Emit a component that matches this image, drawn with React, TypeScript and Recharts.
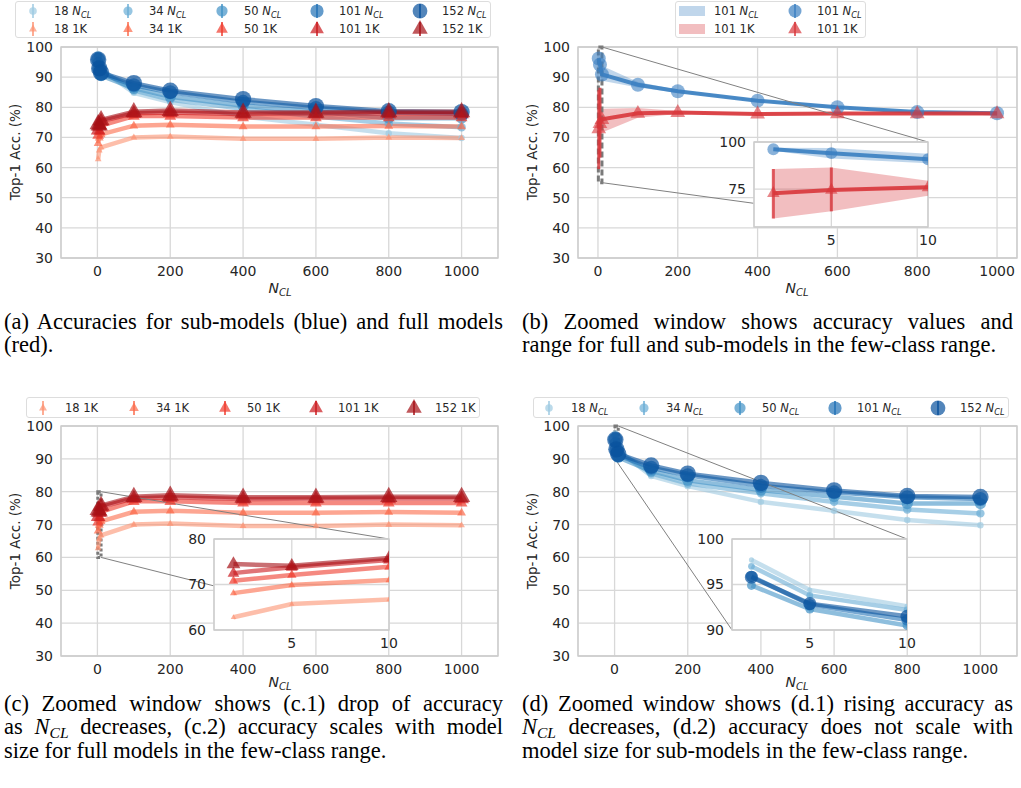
import React from "react";
import {
  ComposedChart,
  Line,
  Area,
  XAxis,
  YAxis,
  CartesianGrid,
  ReferenceArea,
  ReferenceLine,
  ErrorBar,
} from "recharts";

// N_CL values on the x axis
const nCl = [2, 5, 10, 100, 200, 400, 600, 800, 1000];
const models = ["18", "34", "50", "101", "152"];

// sub-model accuracy (blue, "N_CL")
const sub18 = [97.7, 94.4, 92.6, 84.8, 81.7, 76.9, 74.2, 71.4, 69.8];
const sub34 = [97.0, 93.8, 92.2, 85.6, 82.5, 79.5, 76.9, 74.6, 73.4];
const sub50 = [94.9, 92.3, 90.5, 86.3, 83.5, 80.5, 78.5, 76.4, 76.4];
const sub101 = [95.9, 92.8, 91.1, 87.3, 85.0, 81.8, 79.8, 78.3, 77.8];
const sub152 = [95.8, 92.9, 91.5, 88.0, 85.5, 82.7, 80.4, 78.7, 78.4];

// full-model accuracy (red, "1K")
const full18 = [62.8, 65.7, 66.7, 70.0, 70.3, 69.6, 69.6, 70.0, 69.8];
const full34 = [68.1, 69.9, 71.0, 73.9, 74.2, 73.6, 73.6, 73.8, 73.6];
const full50 = [70.8, 72.1, 73.9, 77.1, 77.1, 76.6, 76.6, 76.6, 76.6];
const full101 = [72.5, 73.8, 75.4, 78.0, 78.3, 77.8, 77.9, 77.9, 77.9];
const full152 = [74.5, 74.1, 75.8, 78.5, 78.9, 78.3, 78.3, 78.5, 78.5];

// panel (b): ResNet-101 mean and range
const bSub = [96.2, 94.1, 90.9, 87.5, 85.3, 82.2, 80.0, 78.4, 78.0];
const bSubLow = [95.4, 91.2, 88.8, 86.6, 84.8, 81.8, 79.6, 78.1, 77.7];
const bSubHigh = [96.9, 96.8, 93.8, 88.4, 85.8, 82.6, 80.4, 78.7, 78.3];
const bFull = [72.9, 74.6, 76.0, 78.0, 78.3, 77.8, 77.9, 77.9, 77.9];
const bFullLow = [59.5, 63.3, 71.6, 76.5, 77.8, 77.4, 77.5, 77.5, 77.5];
const bFullHigh = [85.7, 86.5, 79.5, 79.8, 78.8, 78.2, 78.3, 78.3, 78.3];
const bErrPoints = 2; // error bars drawn on the first two points

const xTicks = [0, 200, 400, 600, 800, 1000];
const yTicks = [30, 40, 50, 60, 70, 80, 90, 100];
const insetXTicks = [5, 10];

const subAcc = [sub18, sub34, sub50, sub101, sub152];
const fullAcc = [full18, full34, full50, full101, full152];

const blues = ["#9ecae1", "#6baed6", "#4292c6", "#2171b5", "#08519c"];
const reds = ["#fc9272", "#fb6a4a", "#ef3b2c", "#cb181d", "#a50f15"];
const markR = [3.2, 4.2, 5.6, 7, 8.2];
const bBlue = "#3a7fc1";
const bRed = "#d8363b";

const table = nCl.map((x, i) => {
  const row: Record<string, any> = { x };
  models.forEach((m, k) => {
    row["s" + m] = subAcc[k][i];
    row["f" + m] = fullAcc[k][i];
  });
  row.bs = bSub[i];
  row.bsBand = [bSubLow[i], bSubHigh[i]];
  row.bf = bFull[i];
  row.bfBand = [bFullLow[i], bFullHigh[i]];
  row.bfErr = i < bErrPoints ? [bFull[i] - bFullLow[i], bFullHigh[i] - bFull[i]] : [0, 0];
  return row;
});

const sans = "'DejaVu Sans', sans-serif";
const serif = "'Liberation Serif', 'Times New Roman', serif";
const ink = "#262626";
const tickStyle = { fill: ink, fontSize: 14, fontFamily: sans };

type Geo = {
  left: number;
  top: number;
  width: number;
  height: number;
  yW: number;
  mTop: number;
  mRight: number;
  xH: number;
  xDomain: [number, number];
  yDomain: [number, number];
  xTicks: number[];
  yTicks: number[];
  bg?: string;
};

const gA: Geo = { left: 0, top: 0, width: 510, height: 300, yW: 61, mTop: 47, mRight: 12, xH: 42, xDomain: [-100, 1100], yDomain: [30, 100], xTicks, yTicks };
const gB: Geo = { left: 510, top: 0, width: 511, height: 300, yW: 68, mTop: 47, mRight: 4, xH: 42, xDomain: [-50, 1050], yDomain: [30, 100], xTicks, yTicks };
const gC: Geo = { left: 0, top: 380, width: 510, height: 310, yW: 61, mTop: 46, mRight: 12, xH: 34, xDomain: [-100, 1100], yDomain: [30, 100], xTicks, yTicks };
const gD: Geo = { left: 510, top: 380, width: 511, height: 310, yW: 68, mTop: 46, mRight: 4, xH: 34, xDomain: [-100, 1100], yDomain: [30, 100], xTicks, yTicks };

const iB: Geo = { left: 709, top: 132, width: 231, height: 120, yW: 45, mTop: 10, mRight: 12, xH: 25, xDomain: [1, 10], yDomain: [55, 100], xTicks: insetXTicks, yTicks: [75, 100], bg: "#fff" };
const iC: Geo = { left: 169, top: 529, width: 232, height: 126, yW: 45, mTop: 10, mRight: 12, xH: 25, xDomain: [1, 10], yDomain: [60, 80], xTicks: insetXTicks, yTicks: [60, 70, 80], bg: "#fff" };
const iD: Geo = { left: 687, top: 529, width: 232, height: 126, yW: 45, mTop: 10, mRight: 12, xH: 25, xDomain: [1, 10], yDomain: [90, 100], xTicks: insetXTicks, yTicks: [90, 95, 100], bg: "#fff" };

function plotBox(g: Geo) {
  const l = g.left + g.yW;
  const t = g.top + g.mTop;
  const w = g.width - g.yW - g.mRight;
  const h = g.height - g.mTop - g.xH;
  return { l, t, r: l + w, b: t + h, w, h };
}

// convert a page pixel into data coords of a main chart
function toData(g: Geo, px: number, py: number) {
  const p = plotBox(g);
  return {
    x: g.xDomain[0] + ((px - p.l) / p.w) * (g.xDomain[1] - g.xDomain[0]),
    y: g.yDomain[1] - ((py - p.t) / p.h) * (g.yDomain[1] - g.yDomain[0]),
  };
}

function marker(shape: "circle" | "tri", r: number, color: string, op: number) {
  return (p: any) => {
    const { cx, cy, index } = p;
    if (cx == null || cy == null) return <g key={"m" + index} />;
    if (shape === "circle")
      return <circle key={"m" + index} cx={cx} cy={cy} r={r} fill={color} fillOpacity={op} />;
    const pts = `${cx},${cy - r * 1.2} ${cx - r * 1.05},${cy + r * 0.65} ${cx + r * 1.05},${cy + r * 0.65}`;
    return <polygon key={"m" + index} points={pts} fill={color} fillOpacity={op} />;
  };
}

function subLines(scale: number) {
  return models.map((m, k) => (
    <Line
      key={"s" + m}
      dataKey={"s" + m}
      type="linear"
      stroke={blues[k]}
      strokeWidth={4.5}
      strokeOpacity={0.6}
      dot={marker("circle", markR[k] * scale, blues[k], 0.7)}
      activeDot={false}
      isAnimationActive={false}
    />
  ));
}

function fullLines(scale: number) {
  return models.map((m, k) => (
    <Line
      key={"f" + m}
      dataKey={"f" + m}
      type="linear"
      stroke={reds[k]}
      strokeWidth={4.5}
      strokeOpacity={0.6}
      dot={marker("tri", markR[k] * scale, reds[k], 0.7)}
      activeDot={false}
      isAnimationActive={false}
    />
  ));
}

function bSeries(scale: number) {
  return [
    <Area key="bsb" dataKey="bsBand" type="linear" stroke="none" fill={bBlue} fillOpacity={0.32} activeDot={false} isAnimationActive={false} />,
    <Area key="bfb" dataKey="bfBand" type="linear" stroke="none" fill={bRed} fillOpacity={0.32} activeDot={false} isAnimationActive={false} />,
    <Line key="bs" dataKey="bs" type="linear" stroke={bBlue} strokeWidth={4} strokeOpacity={0.9} dot={marker("circle", 7 * scale, bBlue, 0.6)} activeDot={false} isAnimationActive={false} />,
    <Line key="bf" dataKey="bf" type="linear" stroke={bRed} strokeWidth={4} strokeOpacity={0.9} dot={marker("tri", 7 * scale, bRed, 0.6)} activeDot={false} isAnimationActive={false}>
      <ErrorBar dataKey="bfErr" direction="y" width={0} stroke={bRed} strokeWidth={3} strokeOpacity={0.8} />
    </Line>,
  ];
}

function Chart({ g, children }: { g: Geo; children: React.ReactNode }) {
  return (
    <div style={{ position: "absolute", left: g.left, top: g.top }}>
      <ComposedChart
        width={g.width}
        height={g.height}
        data={table}
        margin={{ top: g.mTop, right: g.mRight, left: 0, bottom: 0 }}
      >
        <CartesianGrid stroke="#d8d8d8" strokeWidth={1.3} fill={g.bg || "none"} fillOpacity={1} />
        <XAxis
          type="number"
          dataKey="x"
          domain={g.xDomain}
          ticks={g.xTicks}
          allowDataOverflow
          height={g.xH}
          axisLine={false}
          tickLine={false}
          tick={tickStyle}
          interval={0}
        />
        <YAxis
          type="number"
          domain={g.yDomain}
          ticks={g.yTicks}
          allowDataOverflow
          width={g.yW}
          axisLine={false}
          tickLine={false}
          tick={tickStyle}
          interval={0}
        />
        <ReferenceArea
          x1={g.xDomain[0]}
          x2={g.xDomain[1]}
          y1={g.yDomain[0]}
          y2={g.yDomain[1]}
          fill="none"
          fillOpacity={0}
          stroke="#cccccc"
          strokeWidth={1.3}
        />
        {children}
      </ComposedChart>
    </div>
  );
}

// zoom rectangle + connector lines drawn in the main chart
function zoomMarks(g: Geo, ins: Geo, dash: string, second: "br" | "bl") {
  const ip = plotBox(ins);
  const [x1, x2] = ins.xDomain;
  const [y1, y2] = ins.yDomain;
  const tr = toData(g, ip.r, ip.t);
  const other = second === "br" ? toData(g, ip.r, ip.b) : toData(g, ip.l, ip.b);
  const from = second === "br" ? { x: x2, y: y1 } : { x: x1, y: y1 };
  return [
    <ReferenceLine key="c1" segment={[{ x: x2, y: y2 }, tr]} stroke="#808080" strokeWidth={1} ifOverflow="visible" />,
    <ReferenceLine key="c2" segment={[from, other]} stroke="#808080" strokeWidth={1} ifOverflow="visible" />,
    <ReferenceArea key="zr" x1={x1} x2={x2} y1={y1} y2={y2} fill="none" fillOpacity={0} stroke="#7a7a7a" strokeWidth={3} strokeDasharray={dash} ifOverflow="visible" />,
  ];
}

const NCL = ({ size }: { size: number }) => (
  <span>
    <i>N</i>
    <span style={{ fontStyle: "italic", fontSize: size * 0.72, position: "relative", top: size * 0.22 }}>CL</span>
  </span>
);

function CircleIcon({ r, color }: { r: number; color: string }) {
  return (
    <svg width={24} height={18}>
      <line x1={12} y1={2} x2={12} y2={16} stroke={color} strokeOpacity={0.75} strokeWidth={2} />
      <circle cx={12} cy={9} r={r} fill={color} fillOpacity={0.7} />
    </svg>
  );
}

function TriIcon({ r, color }: { r: number; color: string }) {
  const pts = `12,${9 - r * 1.2} ${12 - r * 1.05},${9 + r * 0.65} ${12 + r * 1.05},${9 + r * 0.65}`;
  return (
    <svg width={24} height={18}>
      <line x1={12} y1={2} x2={12} y2={16} stroke={color} strokeOpacity={0.75} strokeWidth={2} />
      <polygon points={pts} fill={color} fillOpacity={0.7} />
    </svg>
  );
}

function PatchIcon({ color }: { color: string }) {
  return (
    <svg width={26} height={12}>
      <rect x={0} y={1} width={26} height={10} fill={color} fillOpacity={0.32} />
    </svg>
  );
}

type LegItem = { mx: number; tx: number; cy: number; icon: React.ReactNode; label: React.ReactNode };

function LegendBox({ left, top, width, height, items }: { left: number; top: number; width: number; height: number; items: LegItem[] }) {
  return (
    <div
      style={{
        position: "absolute",
        left,
        top,
        width,
        height,
        border: "1px solid #dddddd",
        borderRadius: 3,
        background: "#fff",
        fontFamily: sans,
        fontSize: 11.5,
        color: ink,
        boxSizing: "border-box",
      }}
    >
      {items.map((it, i) => (
        <React.Fragment key={i}>
          <div style={{ position: "absolute", left: it.mx - 13, top: it.cy - 9, width: 26, height: 18, display: "flex", alignItems: "center", justifyContent: "center" }}>
            {it.icon}
          </div>
          <div style={{ position: "absolute", left: it.tx, top: it.cy - 8, lineHeight: "16px", whiteSpace: "nowrap" }}>{it.label}</div>
        </React.Fragment>
      ))}
    </div>
  );
}

const subLabel = (m: string) => (
  <span>
    {m} <NCL size={11.5} />
  </span>
);
const fullLabel = (m: string) => <span>{m} 1K</span>;

const legAMx = [17, 112, 206, 301, 404];
const legATx = [38, 133, 228, 323, 426];
const legCMx = [16, 107, 198, 289, 387];
const legCTx = [38, 129, 220, 311, 408];
const legDMx = [15, 110, 206, 301, 404];
const legDTx = [37, 132, 228, 323, 426];
const legR = [3.8, 4.6, 5.6, 6.6, 7.4];

function YLabel({ x, y }: { x: number; y: number }) {
  return (
    <div
      style={{
        position: "absolute",
        left: x,
        top: y,
        transform: "translate(-50%, -50%) rotate(-90deg)",
        fontFamily: sans,
        fontSize: 13.5,
        lineHeight: "14px",
        color: ink,
        whiteSpace: "nowrap",
      }}
    >
      Top-1 Acc. (%)
    </div>
  );
}

function XLabel({ x, y }: { x: number; y: number }) {
  return (
    <div style={{ position: "absolute", left: x, top: y, transform: "translate(-50%, -50%)", fontFamily: sans, fontSize: 14, lineHeight: "12px", color: ink, whiteSpace: "nowrap" }}>
      <NCL size={14} />
    </div>
  );
}

const CapNCL = () => (
  <span>
    <i>N</i>
    <span style={{ fontStyle: "italic", fontSize: 15.5, lineHeight: "10px", position: "relative", top: 3.5 }}>CL</span>
  </span>
);

function Caption({ left, top, width, lines }: { left: number; top: number; width: number; lines: React.ReactNode[] }) {
  return (
    <div style={{ position: "absolute", left, top, width, fontFamily: serif, fontSize: 22.5, lineHeight: "23.4px", color: "#000" }}>
      {lines.map((ln, i) => (
        <div key={i} style={{ textAlign: "justify", textAlignLast: i < lines.length - 1 ? "justify" : "left", height: 23.4 }}>
          {ln}
        </div>
      ))}
    </div>
  );
}

export default function App() {
  return (
    <div style={{ position: "absolute", left: 0, top: 0, width: 1021, height: 788, background: "#fff", overflow: "hidden" }}>
      {/* (a) */}
      <Chart g={gA}>
        {subLines(1)}
        {fullLines(1)}
      </Chart>
      {/* (b) */}
      <Chart g={gB}>
        {bSeries(1)}
        {zoomMarks(gB, iB, "6 3", "br")}
      </Chart>
      <Chart g={iB}>{bSeries(0.85)}</Chart>
      {/* (c) */}
      <Chart g={gC}>
        {fullLines(1)}
        {zoomMarks(gC, iC, "3 2", "br")}
      </Chart>
      <Chart g={iC}>{fullLines(0.8)}</Chart>
      {/* (d) */}
      <Chart g={gD}>
        {subLines(1)}
        {zoomMarks(gD, iD, "3 2", "bl")}
      </Chart>
      <Chart g={iD}>{subLines(0.8)}</Chart>

      <LegendBox
        left={15}
        top={1}
        width={476}
        height={37}
        items={[
          ...models.map((m, k) => ({ mx: legAMx[k], tx: legATx[k], cy: 9, icon: <CircleIcon r={legR[k]} color={blues[k]} />, label: subLabel(m) })),
          ...models.map((m, k) => ({ mx: legAMx[k], tx: legATx[k], cy: 27, icon: <TriIcon r={legR[k]} color={reds[k]} />, label: fullLabel(m) })),
        ]}
      />
      <LegendBox
        left={675}
        top={1}
        width={191}
        height={37}
        items={[
          { mx: 16, tx: 38, cy: 9, icon: <PatchIcon color={bBlue} />, label: subLabel("101") },
          { mx: 16, tx: 38, cy: 27, icon: <PatchIcon color={bRed} />, label: fullLabel("101") },
          { mx: 119, tx: 141, cy: 9, icon: <CircleIcon r={6.5} color={bBlue} />, label: subLabel("101") },
          { mx: 119, tx: 141, cy: 27, icon: <TriIcon r={6.5} color={bRed} />, label: fullLabel("101") },
        ]}
      />
      <LegendBox
        left={26}
        top={397}
        width={454}
        height={21}
        items={models.map((m, k) => ({ mx: legCMx[k], tx: legCTx[k], cy: 10, icon: <TriIcon r={legR[k]} color={reds[k]} />, label: fullLabel(m) }))}
      />
      <LegendBox
        left={533}
        top={397}
        width={476}
        height={21}
        items={models.map((m, k) => ({ mx: legDMx[k], tx: legDTx[k], cy: 10, icon: <CircleIcon r={legR[k]} color={blues[k]} />, label: subLabel(m) }))}
      />

      <YLabel x={15} y={152} />
      <YLabel x={532} y={152} />
      <YLabel x={15} y={541} />
      <YLabel x={532} y={541} />
      <XLabel x={280} y={289} />
      <XLabel x={797} y={289} />
      <XLabel x={280} y={683} />
      <XLabel x={797} y={683} />

      <Caption
        left={4}
        top={310}
        width={499}
        lines={["(a)  Accuracies for sub-models (blue) and full models", "(red)."]}
      />
      <Caption
        left={522}
        top={310}
        width={491}
        lines={["(b) Zoomed window shows accuracy values and", "range for full and sub-models in the few-class range."]}
      />
      <Caption
        left={4}
        top={692}
        width={499}
        lines={[
          "(c) Zoomed window shows (c.1) drop of accuracy",
          <span key="l2">
            as <CapNCL /> decreases, (c.2) accuracy scales with model
          </span>,
          "size for full models in the few-class range.",
        ]}
      />
      <Caption
        left={522}
        top={692}
        width={491}
        lines={[
          "(d) Zoomed window shows (d.1) rising accuracy as",
          <span key="l2">
            <CapNCL /> decreases, (d.2) accuracy does not scale with
          </span>,
          "model size for sub-models in the few-class range.",
        ]}
      />
    </div>
  );
}
